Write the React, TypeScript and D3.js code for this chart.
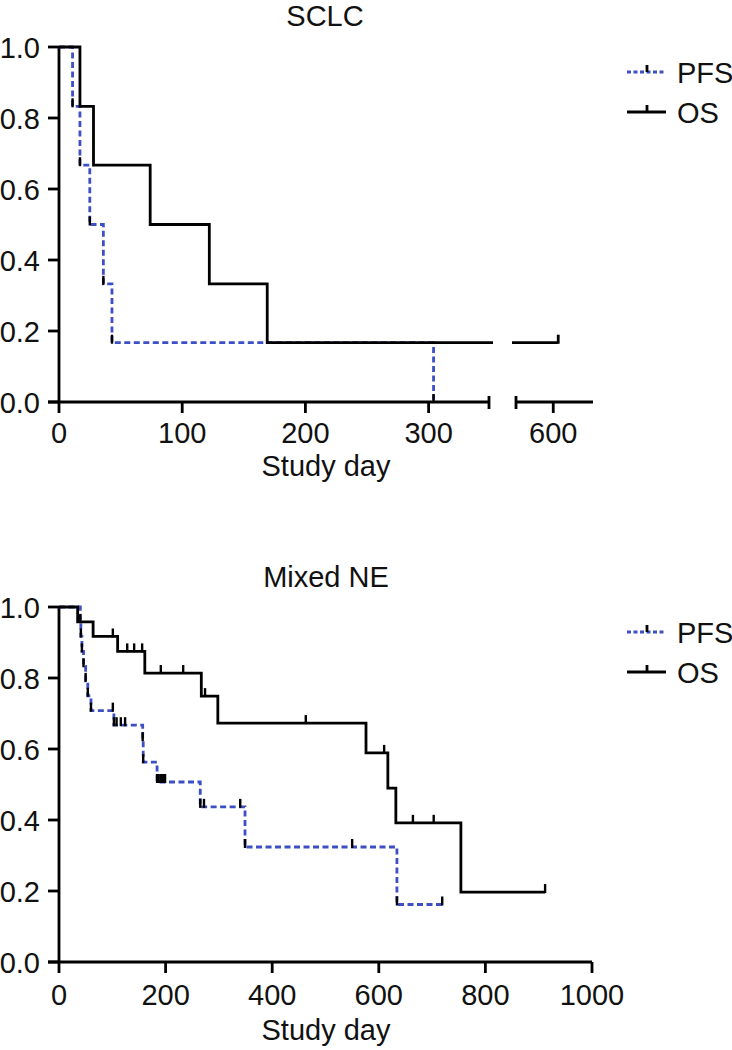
import React from "react";
import * as d3 from "d3";

// ---------- DATA ----------
// SCLC
const sclcPfsSteps: [number, number][] = [[0, 1], [11, 0.833], [17, 0.667], [25, 0.5], [36, 0.333], [43, 0.167], [304, 0]];
const sclcPfsEventTicks: [number, number][] = [[11, 0.833], [17, 0.667], [25, 0.5], [36, 0.333], [43, 0.167], [304, 0]];
const sclcPfsEnd = 304;
const sclcOsSteps: [number, number][] = [[0, 1], [17, 0.833], [28, 0.667], [74, 0.5], [122, 0.333], [169, 0.167]];
const sclcOsCensors: number[] = [604];
const sclcOsEnd = 604;
const sclcYTicks = [0, 0.2, 0.4, 0.6, 0.8, 1.0];
const sclcXTicksA = [0, 100, 200, 300];
const sclcXTicksB = [600];

// Mixed NE
const mixPfsSteps: [number, number][] = [[0, 1], [40, 0.958], [41, 0.917], [43, 0.875], [46, 0.833], [50, 0.792], [54, 0.75], [60, 0.708], [103, 0.667], [157, 0.625], [158, 0.563], [184, 0.507], [265, 0.437], [349, 0.324], [634, 0.162]];
const mixPfsCensors: number[] = [101, 108, 116, 124, 187, 191, 195, 199, 272, 340, 550, 719];
const mixPfsEnd = 719;
const mixOsSteps: [number, number][] = [[0, 1], [35, 0.958], [64, 0.917], [110, 0.875], [161, 0.814], [267, 0.749], [298, 0.673], [576, 0.589], [617, 0.49], [632, 0.392], [754, 0.197]];
const mixOsCensors: number[] = [101, 128, 141, 156, 191, 233, 274, 463, 610, 664, 703, 912];
const mixOsEnd = 912;
const mixYTicks = [0, 0.2, 0.4, 0.6, 0.8, 1.0];
const mixXTicks = [0, 200, 400, 600, 800, 1000];

const legendLabels = ["PFS", "OS"];

// ---------- STYLE ----------
const BLUE = "#3d4fc4";
const FONT = "'Liberation Sans', Arial, Helvetica, sans-serif";
const FS = 29;
const SW = 2.8;
const DASH = "6,3.5";

function valueAt(steps: [number, number][], t: number) {
  let v = steps[0][1];
  for (const [d, s] of steps) if (d <= t) v = s;
  return v;
}

const stepLine = (xs: (d: number) => number, ys: (v: number) => number) =>
  d3.line<[number, number]>().x(d => xs(d[0])).y(d => ys(d[1])).curve(d3.curveStepAfter);

function Legend({ y0 }: { y0: number }) {
  return (
    <g>
      {legendLabels.map((lab, i) => {
        const y = y0 + i * 40;
        return (
          <g key={lab}>
            <line x1={627} x2={666} y1={y} y2={y} stroke={i === 0 ? BLUE : "#000"} strokeWidth={SW} strokeDasharray={i === 0 ? "4,2.5" : undefined} />
            <line x1={647} x2={647} y1={y - 7} y2={y} stroke="#000" strokeWidth={SW} />
            <text x={677} y={y + 10.5} fontSize={FS} fontFamily={FONT} fill="#111">{lab}</text>
          </g>
        );
      })}
    </g>
  );
}

function SclcChart() {
  const y = d3.scaleLinear().domain([0, 1]).range([402, 47]);
  const xa = d3.scaleLinear().domain([0, 349]).range([59, 489]);
  const xb = d3.scaleLinear().domain([570, 632]).range([516, 593]);
  const endA = xa.invert(493);
  const startB = xb.invert(512);

  const pfsPts: [number, number][] = [...sclcPfsSteps];
  if (pfsPts[pfsPts.length - 1][0] < sclcPfsEnd) pfsPts.push([sclcPfsEnd, valueAt(sclcPfsSteps, sclcPfsEnd)]);

  const osA: [number, number][] = sclcOsSteps.filter(p => p[0] < endA);
  osA.push([endA, valueAt(sclcOsSteps, endA)]);
  const osB: [number, number][] = [[startB, valueAt(sclcOsSteps, startB)], ...sclcOsSteps.filter(p => p[0] > startB && p[0] < sclcOsEnd), [sclcOsEnd, valueAt(sclcOsSteps, sclcOsEnd)]];

  const axisY = y(0);
  return (
    <g>
      <text x={325} y={26} textAnchor="middle" fontSize={FS} fontFamily={FONT} fill="#111">SCLC</text>
      <line x1={59} x2={59} y1={y(1) - 1} y2={axisY} stroke="#000" strokeWidth={SW} />
      {sclcYTicks.map(t => (
        <g key={t}>
          <line x1={48} x2={59} y1={y(t)} y2={y(t)} stroke="#000" strokeWidth={SW} />
          <text x={40} y={y(t) + 10.5} textAnchor="end" fontSize={FS} fontFamily={FONT} fill="#111">{t.toFixed(1)}</text>
        </g>
      ))}
      <line x1={48} x2={xa(349)} y1={axisY} y2={axisY} stroke="#000" strokeWidth={SW} />
      <line x1={xa(349)} x2={xa(349)} y1={axisY - 6} y2={axisY + 7} stroke="#000" strokeWidth={SW} />
      <line x1={xb(570)} x2={xb(632)} y1={axisY} y2={axisY} stroke="#000" strokeWidth={SW} />
      <line x1={xb(570)} x2={xb(570)} y1={axisY - 6} y2={axisY + 7} stroke="#000" strokeWidth={SW} />
      {sclcXTicksA.map(t => (
        <g key={t}>
          <line x1={xa(t)} x2={xa(t)} y1={axisY} y2={axisY + 11} stroke="#000" strokeWidth={SW} />
          <text x={xa(t)} y={443} textAnchor="middle" fontSize={FS} fontFamily={FONT} fill="#111">{t}</text>
        </g>
      ))}
      {sclcXTicksB.map(t => (
        <g key={t}>
          <line x1={xb(t)} x2={xb(t)} y1={axisY} y2={axisY + 11} stroke="#000" strokeWidth={SW} />
          <text x={xb(t)} y={443} textAnchor="middle" fontSize={FS} fontFamily={FONT} fill="#111">{t}</text>
        </g>
      ))}
      <text x={326} y={476} textAnchor="middle" fontSize={FS} fontFamily={FONT} fill="#111">Study day</text>

      <path d={stepLine(xa, y)(pfsPts) || ""} fill="none" stroke={BLUE} strokeWidth={SW} strokeDasharray={DASH} />
      <path d={stepLine(xa, y)(osA) || ""} fill="none" stroke="#000" strokeWidth={SW} />
      <path d={stepLine(xb, y)(osB) || ""} fill="none" stroke="#000" strokeWidth={SW} />
      {sclcPfsEventTicks.map(([d, v], i) => (
        <line key={i} x1={xa(d)} x2={xa(d)} y1={y(v) - 8} y2={y(v) + 1} stroke="#000" strokeWidth={2.4} />
      ))}
      {sclcOsCensors.map((d, i) => (
        <line key={i} x1={xb(d)} x2={xb(d)} y1={y(valueAt(sclcOsSteps, d)) - 8} y2={y(valueAt(sclcOsSteps, d)) + 1} stroke="#000" strokeWidth={SW} />
      ))}
      <Legend y0={72} />
    </g>
  );
}

function MixedChart() {
  const y = d3.scaleLinear().domain([0, 1]).range([962, 607]);
  const x = d3.scaleLinear().domain([0, 1000]).range([59, 592]);
  const axisY = y(0);
  const pfsPts: [number, number][] = [...mixPfsSteps, [mixPfsEnd, valueAt(mixPfsSteps, mixPfsEnd)]];
  const osPts: [number, number][] = [...mixOsSteps, [mixOsEnd, valueAt(mixOsSteps, mixOsEnd)]];
  const pfsEvents = mixPfsSteps.slice(1);
  return (
    <g>
      <text x={326} y={587} textAnchor="middle" fontSize={FS} fontFamily={FONT} fill="#111">Mixed NE</text>
      <line x1={59} x2={59} y1={y(1) - 1} y2={axisY} stroke="#000" strokeWidth={SW} />
      {mixYTicks.map(t => (
        <g key={t}>
          <line x1={48} x2={59} y1={y(t)} y2={y(t)} stroke="#000" strokeWidth={SW} />
          <text x={40} y={y(t) + 10.5} textAnchor="end" fontSize={FS} fontFamily={FONT} fill="#111">{t.toFixed(1)}</text>
        </g>
      ))}
      <line x1={48} x2={x(1000)} y1={axisY} y2={axisY} stroke="#000" strokeWidth={SW} />
      {mixXTicks.map(t => (
        <g key={t}>
          <line x1={x(t)} x2={x(t)} y1={axisY} y2={axisY + 11} stroke="#000" strokeWidth={SW} />
          <text x={x(t)} y={1005} textAnchor="middle" fontSize={FS} fontFamily={FONT} fill="#111">{t}</text>
        </g>
      ))}
      <text x={326} y={1040} textAnchor="middle" fontSize={FS} fontFamily={FONT} fill="#111">Study day</text>

      <path d={stepLine(x, y)(pfsPts) || ""} fill="none" stroke={BLUE} strokeWidth={SW} strokeDasharray={DASH} />
      <path d={stepLine(x, y)(osPts) || ""} fill="none" stroke="#000" strokeWidth={SW} />
      {pfsEvents.map(([d, v], i) => (
        <line key={"e" + i} x1={x(d)} x2={x(d)} y1={y(v) - 8} y2={y(v) + 1} stroke="#000" strokeWidth={2.4} />
      ))}
      {mixPfsCensors.map((d, i) => (
        <line key={"p" + i} x1={x(d)} x2={x(d)} y1={y(valueAt(mixPfsSteps, d)) - 8} y2={y(valueAt(mixPfsSteps, d)) + 1} stroke="#000" strokeWidth={2.4} />
      ))}
      {mixOsCensors.map((d, i) => (
        <line key={"o" + i} x1={x(d)} x2={x(d)} y1={y(valueAt(mixOsSteps, d)) - 8} y2={y(valueAt(mixOsSteps, d)) + 1} stroke="#000" strokeWidth={2.4} />
      ))}
      <Legend y0={632} />
    </g>
  );
}

export default function App() {
  return (
    <svg width={732} height={1050} style={{ position: "absolute", left: 0, top: 0, background: "#fff" }}>
      <rect x={0} y={0} width={732} height={1050} fill="#fff" />
      <SclcChart />
      <MixedChart />
    </svg>
  );
}
